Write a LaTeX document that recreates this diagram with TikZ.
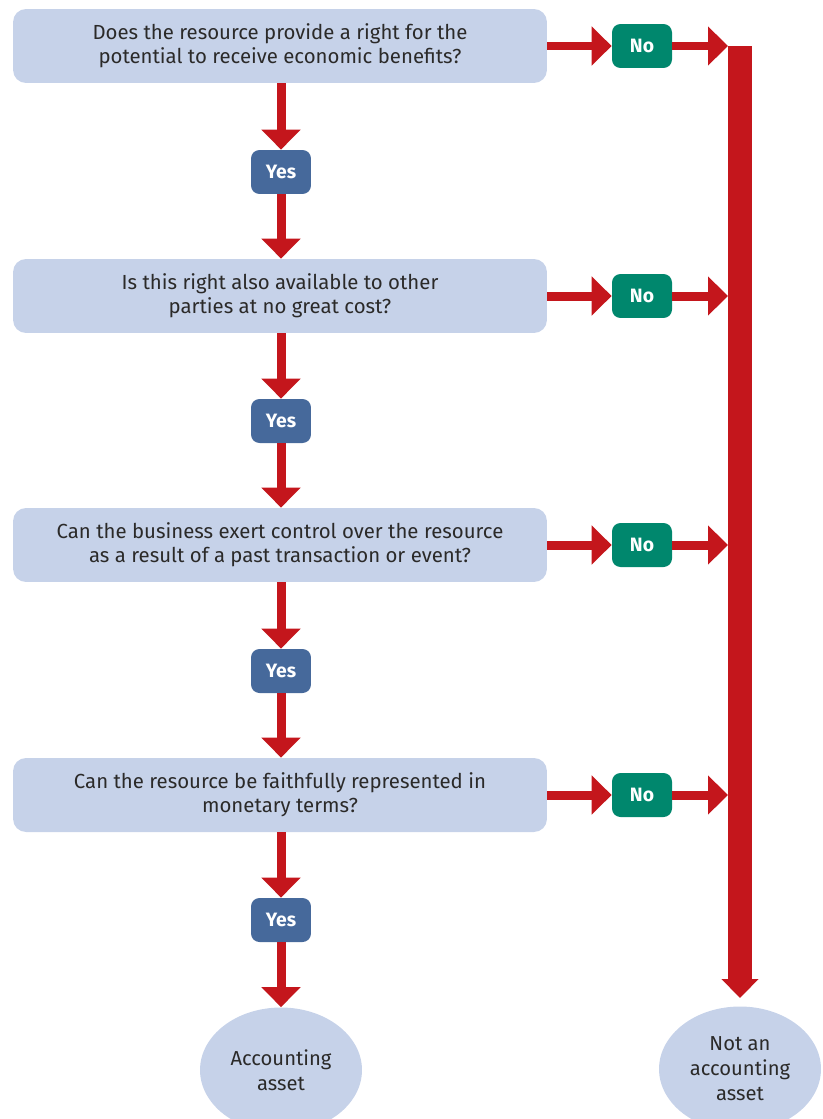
\documentclass[tikz,border=0pt]{standalone}
\usepackage{fontspec}
\setmainfont{Fira Sans}
\usetikzlibrary{arrows.meta,shapes.geometric}

\definecolor{boxblue}{HTML}{C6D2E9}
\definecolor{yesblue}{HTML}{46699B}
\definecolor{nogreen}{HTML}{00876D}
\definecolor{flowred}{HTML}{C4161C}
\definecolor{darktext}{HTML}{2B2A29}

\begin{document}
\begin{tikzpicture}[x=0.02cm,y=-0.02cm,
  question/.style={rectangle, rounded corners=0.26cm, fill=boxblue, minimum width=10.68cm, minimum height=1.48cm, align=center, text=darktext, font=\fontsize{11.6}{13.8}\selectfont},
  yesbox/.style={rectangle, rounded corners=0.17cm, fill=yesblue, minimum width=1.2cm, minimum height=0.88cm, text=white, font=\fontsize{11}{13}\selectfont\bfseries},
  nobox/.style={yesbox, fill=nogreen},
  outcome/.style={ellipse, fill=boxblue, minimum width=3.24cm, minimum height=2.5cm, inner sep=0pt, align=center, text=darktext, font=\fontsize{11.5}{14.2}\selectfont},
  flow/.style={draw=flowred, line width=0.18cm, -{Triangle[length=0.4cm,width=0.76cm]}},
  bar/.style={draw=flowred, line width=0.48cm, -{Triangle[length=0.38cm,width=0.72cm]}}]

\useasboundingbox (0,0) rectangle (822,1119);

% Questions down the left column
\node [question] (q1) at (280,46) {Does the resource provide a right for the\\potential to receive economic benefits?};
\node [question] (q2) at (280,296) {Is this right also available to other\\parties at no great cost?};
\node [question] (q3) at (280,545) {Can the business exert control over the resource\\as a result of a past transaction or event?};
\node [question] (q4) at (280,795) {Can the resource be faithfully represented in\\monetary terms?};

% Yes answers between the questions
\node [yesbox] (y1) at (281,172) {Yes};
\node [yesbox] (y2) at (281,421) {Yes};
\node [yesbox] (y3) at (281,671) {Yes};
\node [yesbox] (y4) at (281,920) {Yes};

% No answers to the right
\node [nobox] (n1) at (642,46) {No};
\node [nobox] (n2) at (642,296) {No};
\node [nobox] (n3) at (642,545) {No};
\node [nobox] (n4) at (642,795) {No};

% Outcomes at the bottom
\node [outcome] (asset) at (281,1070) {Accounting\\asset};
\node [outcome] (notasset) at (740,1069) {Not an\\accounting\\asset};

% The collecting bar and where the No arrows meet it
\coordinate (bartop) at (740,46);
\coordinate (barend) at (740,998);
\coordinate (m1) at (728,46);
\coordinate (m2) at (728,296);
\coordinate (m3) at (728,545);
\coordinate (m4) at (728,795);

\draw [bar] (bartop)--(barend);

% Yes path
\draw [flow] (q1.south-|y1)--(y1.north);
\draw [flow] (y1.south)--(q2.north-|y1);
\draw [flow] (q2.south-|y2)--(y2.north);
\draw [flow] (y2.south)--(q3.north-|y2);
\draw [flow] (q3.south-|y3)--(y3.north);
\draw [flow] (y3.south)--(q4.north-|y3);
\draw [flow] (q4.south-|y4)--(y4.north);
\draw [flow] (y4.south)--(asset.north);

% No path
\draw [flow] (q1.east)--(n1.west);
\draw [flow] (n1.east)--(m1);
\draw [flow] (q2.east)--(n2.west);
\draw [flow] (n2.east)--(m2);
\draw [flow] (q3.east)--(n3.west);
\draw [flow] (n3.east)--(m3);
\draw [flow] (q4.east)--(n4.west);
\draw [flow] (n4.east)--(m4);

\end{tikzpicture}
\end{document}
